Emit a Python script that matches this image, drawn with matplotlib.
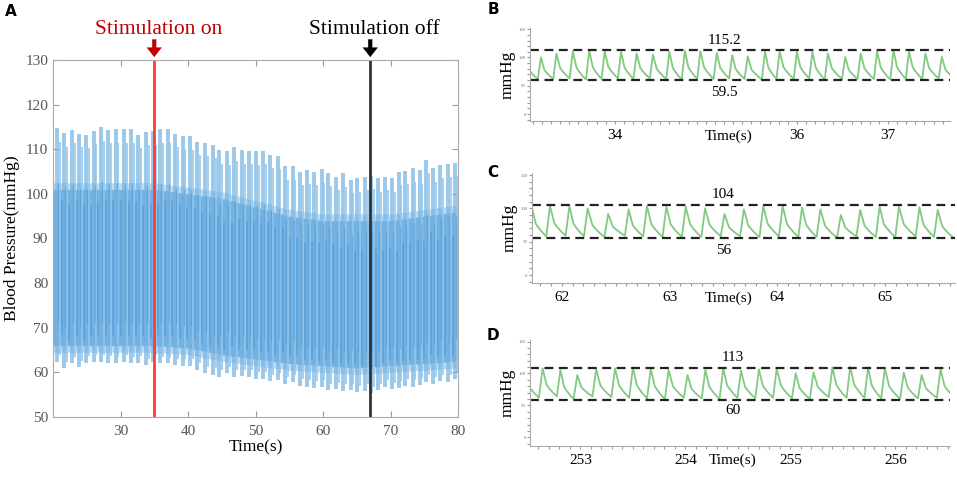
import numpy as np
import matplotlib.pyplot as plt
from matplotlib.ticker import MultipleLocator

# ---- panel A: visible spikes of the blood pressure trace ----
a_spike_t = [20.6, 21.7, 22.8, 23.9, 24.9, 26.0, 27.1, 28.2, 29.3, 30.5,
             31.6, 32.6, 33.8, 34.8, 35.9, 37.0, 38.1, 39.2, 40.3, 41.4,
             42.5, 43.7, 44.6, 45.8, 46.8, 48.0, 49.1, 50.1, 51.1, 52.2,
             53.3, 54.4, 55.5, 56.6, 57.6, 58.7, 59.8, 60.8, 61.9, 63.0,
             64.1, 65.1, 66.2, 67.1, 68.2, 69.2, 70.2, 71.2, 72.2, 73.3,
             74.3, 75.3, 76.3, 77.4, 78.5, 79.5]
a_peak = [114.7, 113.6, 114.3, 113.4, 113.2, 114.1, 114.9, 114.3, 114.5, 114.5,
          114.5, 113.2, 113.9, 114.0, 114.5, 114.5, 113.4, 113.0, 112.9, 111.7,
          111.5, 111.0, 109.8, 109.5, 110.4, 109.8, 109.6, 109.5, 109.7, 108.7,
          108.5, 106.2, 106.2, 105.0, 105.3, 105.0, 105.5, 104.7, 103.8, 104.6,
          103.1, 103.5, 103.8, 104.0, 103.5, 103.8, 103.5, 105.0, 105.2, 105.7,
          105.3, 107.6, 105.7, 106.5, 106.8, 107.0]
a_trough = [62.4, 60.9, 62.0, 61.1, 62.1, 62.4, 62.4, 62.1, 62.0, 62.4,
            62.0, 62.1, 61.6, 62.4, 62.0, 62.0, 61.6, 61.4, 61.4, 60.6,
            59.8, 59.4, 59.0, 59.8, 59.0, 59.1, 59.0, 58.5, 58.5, 58.0,
            58.3, 57.5, 57.8, 57.0, 56.8, 56.5, 56.8, 56.0, 56.2, 55.8,
            56.0, 55.5, 55.8, 55.3, 56.0, 56.8, 56.2, 56.5, 57.0, 56.8,
            57.2, 57.8, 57.5, 58.0, 57.8, 58.5]
# solid core of the trace
a_band_t = [20, 30, 35, 40, 45, 50, 55, 60, 65, 70, 75, 80]
a_band_top = [101, 101, 101, 100, 99, 97, 95, 94, 94, 94, 95, 96]
a_band_bot = [66, 66, 66, 65.5, 64, 63, 62, 61.5, 61, 61.5, 62, 62.5]

# ---- panels B, C, D: beat by beat (peak time, systolic, preceding diastolic) ----
b_t = [33.01, 33.19, 33.36, 33.54, 33.72, 33.89, 34.07, 34.24, 34.42, 34.60,
       34.77, 34.94, 35.12, 35.29, 35.46, 35.65, 35.81, 36.00, 36.17, 36.34,
       36.53, 36.70, 36.88, 37.06, 37.23, 37.41, 37.59, 37.77]
b_sys = [104, 100, 107, 111, 113, 111, 110, 107, 105, 110,
         112, 111, 108, 104, 102, 111, 111, 110, 110, 107,
         101, 107, 111, 113, 111, 107, 101, 105]
b_dia = [63, 62, 62, 63, 61, 62, 63, 62, 63, 62,
         61, 62, 62, 63, 62, 61, 62, 62, 63, 61,
         62, 62, 62, 61, 62, 62, 63, 62]

c_t = [61.72, 61.89, 62.07, 62.24, 62.43, 62.62, 62.79, 62.97, 63.15, 63.33,
       63.51, 63.69, 63.87, 64.05, 64.23, 64.40, 64.59, 64.77, 64.95, 65.13,
       65.32, 65.49, 65.67]
c_sys = [103, 103.5, 103.5, 100, 91.5, 98.5, 103.5, 102.5, 102.5, 100,
         91.5, 98.5, 103.5, 103.5, 101.5, 98.5, 90, 97.5, 102.5, 102.5,
         101.5, 97.5, 100]
c_dia = [58, 58, 59, 58, 57, 59, 58, 57, 57, 57,
         58, 58, 57, 58, 57, 57, 56, 58, 57, 57,
         58, 57, 56]

d_t = [252.47, 252.64, 252.81, 252.97, 253.15, 253.33, 253.50, 253.67, 253.84, 254.02,
       254.19, 254.36, 254.53, 254.70, 254.87, 255.05, 255.22, 255.40, 255.57, 255.74,
       255.90, 256.08, 256.25, 256.43, 256.60]
d_sys = [105, 108, 105.5, 97.5, 106.6, 108, 109.7, 108, 105.5, 97.5,
         105.5, 108, 104.4, 106.6, 108, 100.3, 101.9, 109.7, 110.7, 109.7,
         108, 101.3, 97.6, 106.6, 105]
d_dia = [63, 62, 64, 60, 64, 63, 62, 61, 60, 62,
         61, 60, 62, 61, 62, 61, 60, 63, 62, 62,
         61, 60, 61, 62, 62]

# shape of one beat after the peak (fraction of interval, fraction of amplitude)
decay_frac = [0.28, 0.45, 0.7, 1.0]
decay_lvl = [0.42, 0.3, 0.15, 0.0]
rise = 0.035

ref_lines = {'B': (115.2, 59.5), 'C': (104, 56), 'D': (113, 60)}
ref_shown = {'B': (113, 60), 'C': (105, 55), 'D': (109, 58.5)}


def build_trace(pt, sysv, diav):
    ts, vs = [], []
    for i in range(len(pt) - 1):
        ts += [pt[i] - rise, pt[i]]
        vs += [diav[i], sysv[i]]
        t0 = pt[i]
        t1 = pt[i + 1] - rise
        amp = sysv[i] - diav[i + 1]
        for f, l in zip(decay_frac, decay_lvl):
            ts.append(t0 + f * (t1 - t0))
            vs.append(diav[i + 1] + l * amp)
    return ts, vs


plt.rcParams['font.family'] = ['Liberation Serif', 'DejaVu Serif']
fig = plt.figure(figsize=(9.57, 4.82), dpi=100)
W, H = 957, 482


def px_axes(x0, y0, x1, y1):
    return fig.add_axes([x0 / W, 1 - y1 / H, (x1 - x0) / W, (y1 - y0) / H])


# ---------------- panel A ----------------
ax = px_axes(53, 60, 458, 417)
spk = np.array(a_spike_t)
pk = np.array(a_peak)
tr = np.array(a_trough)
top = np.array(a_band_top)
bot = np.array(a_band_bot)
# solid core
ax.fill_between(a_band_t, bot - 1.5, top + 1.5, color='#a3cdee', lw=0, alpha=0.7)
ax.fill_between(a_band_t, bot, top, color='#73b2e2', lw=0)
# spikes (each visible spike is a pair of strokes)
ax.vlines(spk, tr, pk, color='#72b1e1', lw=2.8, alpha=0.7)
ax.vlines(spk + 0.4, tr + 1.5, pk - 3, color='#93c6eb', lw=1.5, alpha=0.8)
# darker streaks inside the core
ax.vlines(spk + 0.7, tr + 6, pk - 16, color='#3f8fd0', lw=1.2, alpha=0.45)
ax.vlines(spk + 0.15, tr + 9, pk - 12, color='#4b98d4', lw=0.9, alpha=0.5)
ax.axvline(35, color='#ff3b3b', lw=2)
ax.axvline(67, color='#333333', lw=2)
ax.set_xlim(20, 80)
ax.set_ylim(50, 130)
ax.set_xticks([30, 40, 50, 60, 70, 80])
ax.set_yticks(range(50, 131, 10))
ax.tick_params(direction='in', length=4, top=True, right=True, colors='#999999',
               labelcolor='#555555', labelsize=11)
ax.tick_params(axis='x', pad=6)
for s in ax.spines.values():
    s.set_color('#aaaaaa')
ax.set_xlabel('Time(s)', fontsize=12.5, labelpad=1)
ax.set_ylabel('Blood Pressure(mmHg)', fontsize=12.5, labelpad=4)

for xv, col, lab in [(35, '#c00000', 'Stimulation on'), (67, 'black', 'Stimulation off')]:
    ax.annotate('', xy=(xv, 1.008), xycoords=('data', 'axes fraction'),
                xytext=(xv, 1.058), textcoords=('data', 'axes fraction'),
                arrowprops=dict(width=3, headwidth=11, headlength=7, color=col, lw=0))
    ax.text(xv + 0.6, 1.085, lab, transform=ax.get_xaxis_transform(), color=col,
            fontsize=15.5, ha='center', va='center')

# ---------------- panels B, C, D ----------------
small = [
    ('B', (530, 28.1, 950, 120.8), (33.07, 37.68), (-12, 152), b_t, b_sys, b_dia,
     [34, 36, 37], 35.25, 35.2),
    ('C', (531.7, 173, 955, 282.7), (61.72, 65.65), (-11.5, 153), c_t, c_sys, c_dia,
     [62, 63, 64, 65], 63.55, 63.5),
    ('D', (530, 340.3, 950, 445.6), (252.52, 256.52), (-13, 152), d_t, d_sys, d_dia,
     [253, 254, 255, 256], 254.45, 254.45),
]
label_y = {'B': 10, 'C': 172, 'D': 335}
lo_gap = {'B': 10, 'C': 8, 'D': 6}

for name, box, xl, yl, pt, sv, dv, xt, time_x, num_x in small:
    ax = px_axes(*box)
    ts, vs = build_trace(pt, sv, dv)
    ax.plot(ts, vs, color='#82c982', lw=1.3, solid_joinstyle='round')
    hi, lo = ref_shown[name]
    hi_lab, lo_lab = ref_lines[name]
    ax.axhline(hi, color='#222222', lw=1.6, ls=(0, (4, 2.5)))
    ax.axhline(lo, color='#222222', lw=1.6, ls=(0, (4, 2.5)))
    ax.text(num_x, hi + 6, f'{hi_lab:g}', ha='center', va='bottom', fontsize=11)
    ax.text(num_x, lo - lo_gap[name], f'{lo_lab:g}', ha='center', va='top', fontsize=11)
    ax.set_xlim(*xl)
    ax.set_ylim(*yl)
    ax.set_xticks(xt)
    ax.xaxis.set_minor_locator(MultipleLocator(0.1))
    ax.set_yticks([0, 50, 100, 150])
    ax.yaxis.set_minor_locator(MultipleLocator(10))
    ax.tick_params(axis='x', which='both', direction='out', length=2, width=0.8,
                   colors='#999999', labelcolor='black', labelsize=11, pad=4)
    ax.tick_params(axis='y', which='both', direction='out', length=2, width=0.8,
                   colors='#999999', labelcolor='#777777', labelsize=3.5, pad=1)
    ax.spines['top'].set_visible(False)
    ax.spines['right'].set_visible(False)
    ax.spines['left'].set_color('#aaaaaa')
    ax.spines['bottom'].set_color('#aaaaaa')
    ax.annotate('Time(s)', xy=(time_x, 0), xycoords=('data', 'axes fraction'),
                xytext=(0, -6), textcoords='offset points', ha='center', va='top',
                fontsize=11)
    ax.set_ylabel('mmHg', fontsize=12.5, labelpad=2)
    fig.text(493 / W, 1 - label_y[name] / H, name, fontsize=11, fontweight='bold',
             family='DejaVu Sans', ha='center', va='center')

fig.text(11 / W, 1 - 11 / H, 'A', fontsize=11, fontweight='bold', family='DejaVu Sans',
         ha='center', va='center')

fig.savefig('out.png', dpi=100)
